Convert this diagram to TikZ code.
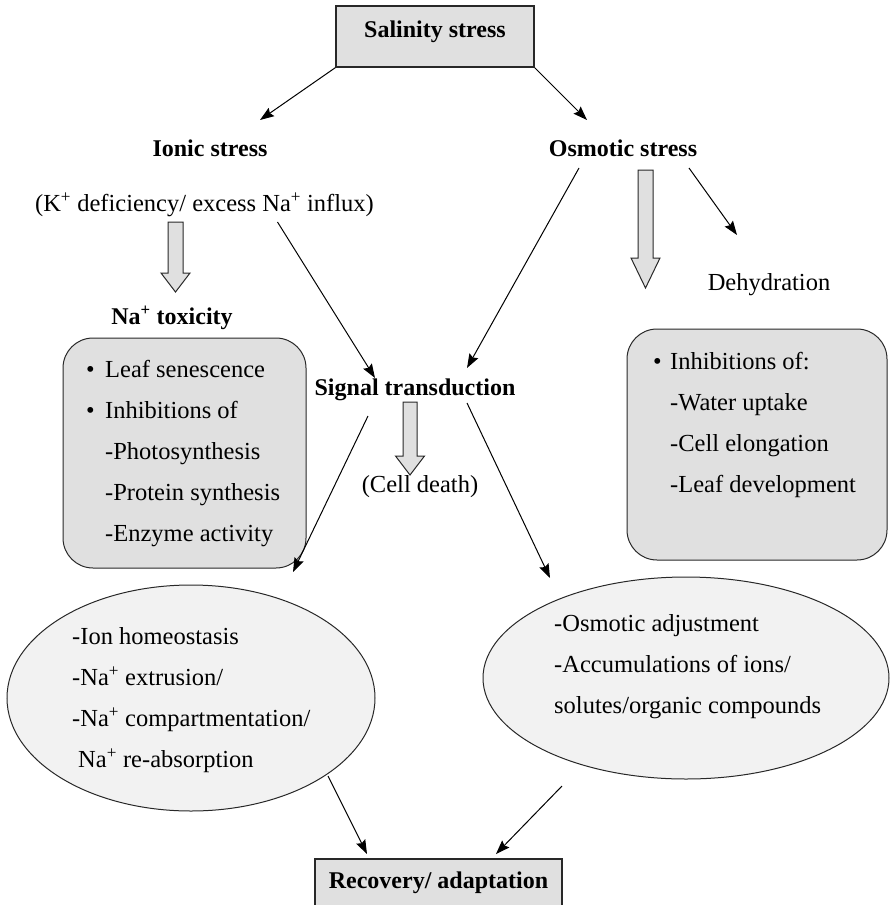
\documentclass[tikz,border=0pt]{standalone}
\usepackage{fontspec}
\setmainfont{Liberation Serif}
\usetikzlibrary{arrows.meta,shapes.geometric}
\definecolor{boxfill}{RGB}{224,224,224}
\definecolor{ellfill}{RGB}{242,242,242}
\definecolor{edgeline}{RGB}{40,40,40}
% #1 top point, #2 shaft half width, #3 head half width, #4 total length, #5 head length
\newcommand\blockarr[5]{%
  \draw[blk] (#1) ++({-#2},0) -- ++(0,{#4-#5}) -- ++({#2-#3},0) -- ++(#3,#5)
    -- ++(#3,{-#5}) -- ++({#2-#3},0) -- ++(0,{#5-#4}) -- cycle;}
\begin{document}
\begin{tikzpicture}[x=1pt,y=-1pt,
  title/.style={font=\fontsize{24}{29}\selectfont\bfseries, inner sep=0pt},
  txt/.style={font=\fontsize{24.5}{41}\selectfont, inner sep=0pt, align=left},
  sqbox/.style={draw=edgeline, line width=1.3pt, fill=boxfill, inner sep=0pt},
  rndbox/.style={draw=edgeline, line width=1pt, fill=boxfill, rounded corners=30pt, inner sep=0pt},
  ell/.style={ellipse, draw=edgeline, line width=1pt, fill=ellfill, inner sep=0pt},
  arr/.style={draw=black, line width=1pt, -{Stealth[length=14pt,width=10pt,inset=2pt]}},
  blk/.style={draw=edgeline, line width=1pt, fill=boxfill, line join=miter}]
\useasboundingbox (0,0) rectangle (889,905);

% top box
\node[sqbox, minimum width=198pt, minimum height=61pt] (sal) at (435,36.5) {};
\node[title] (saltxt) at (435,32) {Salinity stress};

\node[title] (ionic) at (210,148) {Ionic stress};
\node[title] (osm) at (623,148) {Osmotic stress};
\node[txt] (kdef) at (204.5,205) {(K\textsuperscript{+} deficiency/ excess Na\textsuperscript{+} influx)};
\node[txt] (dehyd) at (769,285) {Dehydration};
\node[title] (natox) at (172,318) {Na\textsuperscript{+} toxicity};

% left rounded box
\node[rndbox, minimum width=243pt, minimum height=230pt] (lbox) at (184.5,453) {};
\node[txt, anchor=west] (lboxtxt) at (86,454) {%
  \makebox[19pt][l]{\textbullet}Leaf senescence\\
  \makebox[19pt][l]{\textbullet}Inhibitions of\\
  \hspace*{19pt}-Photosynthesis\\
  \hspace*{19pt}-Protein synthesis\\
  \hspace*{19pt}-Enzyme activity};

% right rounded box
\node[rndbox, minimum width=260pt, minimum height=231pt] (rbox) at (757,444.5) {};
\node[txt, anchor=west] (rboxtxt) at (653,425) {%
  \makebox[17pt][l]{\textbullet}Inhibitions of:\\
  \hspace*{17pt}-Water uptake\\
  \hspace*{17pt}-Cell elongation\\
  \hspace*{17pt}-Leaf development};

\node[title] (signal) at (415,390) {Signal transduction};
\node[txt] (celldeath) at (420,487) {(Cell death)};

% ellipses
\node[ell, minimum width=368pt, minimum height=226pt] (lell) at (191,698) {};
\node[txt, anchor=west] (lelltxt) at (72,700) {%
  -Ion homeostasis\\
  -Na\textsuperscript{+} extrusion/\\
  -Na\textsuperscript{+} compartmentation/\\
  \hspace*{6pt}Na\textsuperscript{+} re-absorption};
\node[ell, minimum width=406pt, minimum height=202pt] (rell) at (686,678) {};
\node[txt, anchor=west] (relltxt) at (554,667) {%
  -Osmotic adjustment\\
  -Accumulations of ions/\\
  solutes/organic compounds};

% bottom box
\node[sqbox, minimum width=247pt, minimum height=52pt] (rec) at (438.5,885) {};
\node[title] (rectxt) at (438.5,883) {Recovery/ adaptation};

% thin arrows
\draw[arr] (sal.south west) -- ([shift={(50,-28)}]ionic.center);
\draw[arr] (sal.south east) -- ([shift={(-36,-28)}]osm.center);
\draw[arr] ([shift={(73,17)}]kdef.center) -- ([shift={(-40,-12)}]signal.center);
\draw[arr] ([shift={(-44,20)}]osm.center) -- ([shift={(52,-22)}]signal.center);
\draw[arr] ([shift={(66,20)}]osm.center) -- ([shift={(-32,-50)}]dehyd.center);
\draw[arr] ([shift={(-47,26)}]signal.center) -- ([shift={(102,-126)}]lell.center);
\draw[arr] ([shift={(52,13)}]signal.center) -- ([shift={(-136,-100)}]rell.center);
\draw[arr] ([shift={(137,78)}]lell.center) -- ([shift={(-71.5,-31)}]rec.center);
\draw[arr] ([shift={(-124,108)}]rell.center) -- ([shift={(57.5,-31)}]rec.center);

% block arrows
\blockarr{[shift={(-29,17)}]kdef.center}{7.5}{14.5}{70}{19}
\blockarr{[shift={(22.5,22)}]osm.center}{7.5}{14.5}{118}{30}
\blockarr{[shift={(-5,12)}]signal.center}{7}{14.5}{73}{19}
\end{tikzpicture}
\end{document}
